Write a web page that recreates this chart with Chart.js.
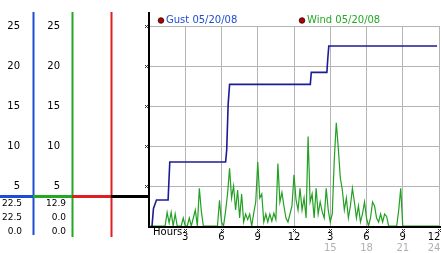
<!DOCTYPE html>
<html>
<head>
<meta charset="utf-8">
<script src="https://cdn.jsdelivr.net/npm/chart.js@4"></script>
<style>
  html, body { margin: 0; padding: 0; background: #fff; }
</style>
</head>
<body>
<canvas id="chart" width="442" height="253"></canvas>
<script>
// gust: step line, hour -> mph
const gustHours  = [0.25, 0.37, 0.62, 1.58, 1.72, 6.34, 6.43, 6.55, 6.67, 13.35, 13.43, 14.72, 14.80, 14.88, 23.84];
const gustValues = [0,    2.2,  3.25, 3.25, 8.0,  8.0,  9.5,  15.2, 17.7, 17.7,  19.2,  19.2,  21.0,  22.5,  22.5];

// wind: one reading every 10 minutes from midnight
const windValues = [
  0, 0, 0, 0, 0, 0, 0, 0, 0, 1.7,
  0.4, 1.7, 0, 1.5, 0, 0, 0, 1.0, 0, 0,
  1.0, 0, 1.0, 2.0, 0, 4.7, 1.8, 0, 0, 0,
  0, 0, 0, 0, 0, 3.2, 0.5, 0, 1.8, 4.0,
  7.2, 3.5, 5.0, 2.0, 4.5, 1.0, 4.0, 0.5, 1.5, 0.8,
  1.5, 0, 1.6, 3.0, 8.0, 3.5, 4.0, 0.5, 1.5, 0.5,
  1.5, 0.6, 1.6, 0.8, 7.8, 3.0, 4.2, 2.5, 1.0, 0.5,
  1.5, 2.5, 6.4, 3.3, 2.0, 4.7, 2.0, 3.5, 1.0, 11.2,
  3.0, 4.0, 1.0, 4.7, 1.5, 3.0, 1.8, 1.0, 4.7, 2.0,
  0.5, 1.5, 8.3, 12.9, 9.7, 6.0, 4.5, 2.0, 3.5, 1.0,
  2.5, 4.7, 3.0, 1.0, 2.5, 0.5, 1.5, 3.0, 1.0, 0,
  1.0, 3.0, 2.5, 1.0, 0.5, 1.5, 0.5, 1.5, 1.2, 0,
  0, 0, 0, 0, 2.0, 4.7, 0, 0, 0, 0,
  0, 0, 0, 0, 0, 0, 0, 0, 0, 0,
  0, 0, 0, 0, 0
];
const windMinutesStep = 10;

const legendNames = ['Gust 05/20/08', 'Wind 05/20/08'];
const yTickValues = [25, 20, 15, 10, 5];
const xTickHours = [3, 6, 9, 12, 15, 18, 21, 24];
const xTickLabels = ['3', '6', '9', '12', '3', '6', '9', '12'];
const xTickLabels24 = ['', '', '', '', '15', '18', '21', '24'];
const gustReadout = ['22.5', '22.5', '0.0'];
const windReadout = ['12.9', '0.0', '0.0'];
const cursorLevel = 3.7;

const gustPoints = gustHours.map((h, i) => ({ x: h, y: gustValues[i] }));
const windPoints = windValues.map((v, i) => ({ x: i * windMinutesStep / 60, y: v }));

const FONT = '10px "DejaVu Sans", Verdana, sans-serif';
const SMALL = '9px "DejaVu Sans", Verdana, sans-serif';
const BLUE = '#1f4cd6';
const GREEN = '#22a822';
const RED = '#dd1f1f';

function mark(ctx, x, y) {
    ctx.fillStyle = '#333';
    ctx.fillRect(x - 1, y - 1, 1, 1);
    ctx.fillRect(x + 1, y - 1, 1, 1);
    ctx.fillRect(x, y, 1, 1);
    ctx.fillRect(x - 1, y + 1, 1, 1);
    ctx.fillRect(x + 1, y + 1, 1, 1);
}

const decor = {
    id: 'decor',
    beforeDatasetsDraw(chart) {
        const { ctx, chartArea: a } = chart;
        ctx.save();
        ctx.fillStyle = '#000';
        ctx.fillRect(a.left - 1, a.top - 14, 2, a.bottom - a.top + 16);
        ctx.fillRect(a.left - 1, a.bottom, a.right - a.left + 3, 2);
        ctx.restore();
    },
    afterDraw(chart) {
        const { ctx, chartArea: a } = chart;
        const ys = chart.scales.y, xs = chart.scales.x;
        ctx.save();

        // left panel columns
        const cols = [33, 72, 111];
        const colColors = [BLUE, GREEN, RED];
        const colBottoms = [a.bottom + 9, a.bottom + 11, a.bottom + 11];
        cols.forEach((cx, i) => {
            ctx.fillStyle = colColors[i];
            ctx.fillRect(cx - 0.5, a.top - 14, 2, colBottoms[i] - (a.top - 14));
        });

        // cursor level bar
        const cy = Math.round(ys.getPixelForValue(cursorLevel));
        const segs = [[0, 33, BLUE], [33, 72, GREEN], [72, 111, RED], [111, a.left, '#000']];
        segs.forEach(([x0, x1, c]) => {
            ctx.fillStyle = c;
            ctx.fillRect(x0, cy - 1, x1 - x0, 3);
        });

        // y tick labels in the two columns
        ctx.font = FONT;
        ctx.textAlign = 'right';
        ctx.textBaseline = 'middle';
        yTickValues.forEach(v => {
            const y = ys.getPixelForValue(v);
            ctx.fillStyle = '#000';
            ctx.fillText(String(v), 20, y);
            ctx.fillText(String(v), 60, y);
            mark(ctx, a.left - 3, Math.round(y));
        });

        // readouts below
        ctx.font = SMALL;
        ctx.fillStyle = '#000';
        gustReadout.forEach((t, i) => ctx.fillText(t, 22, a.bottom - 22 + i * 14));
        windReadout.forEach((t, i) => ctx.fillText(t, 66, a.bottom - 22 + i * 14));

        // legend
        const items = [[a.left + 12, BLUE], [a.left + 153, GREEN]];
        ctx.font = FONT;
        ctx.textAlign = 'left';
        items.forEach(([lx, c], i) => {
            ctx.beginPath();
            ctx.arc(lx, a.top - 5.5, 2.8, 0, Math.PI * 2);
            ctx.fillStyle = '#b00000';
            ctx.fill();
            ctx.strokeStyle = '#300000';
            ctx.lineWidth = 0.8;
            ctx.stroke();
            ctx.fillStyle = c;
            ctx.fillText(legendNames[i], lx + 5, a.top - 5.5);
        });

        // x axis labels
        ctx.fillStyle = '#000';
        ctx.fillText('Hours', a.left + 4, a.bottom + 6);
        ctx.textAlign = 'center';
        xTickHours.forEach((h, i) => {
            const x = xs.getPixelForValue(h);
            mark(ctx, Math.round(x), a.bottom + 4);
            const lx = Math.min(x, 442 - 8);
            ctx.fillStyle = '#000';
            ctx.fillText(xTickLabels[i], lx, a.bottom + 11);
            ctx.fillStyle = '#b0b0b0';
            ctx.fillText(xTickLabels24[i], lx, a.bottom + 22);
        });
        ctx.restore();
    }
};

new Chart(document.getElementById('chart'), {
    type: 'line',
    data: {
        datasets: [
            { label: legendNames[0], data: gustPoints, borderColor: '#1c1c94', borderWidth: 1.6, pointRadius: 0, fill: false },
            { label: legendNames[1], data: windPoints, borderColor: '#22a022', borderWidth: 1.2, pointRadius: 0, fill: false }
        ]
    },
    options: {
        responsive: false,
        animation: false,
        devicePixelRatio: 1,
        layout: { padding: { left: 149, right: 3, top: 26, bottom: 27 } },
        plugins: { legend: { display: false }, tooltip: { enabled: false } },
        scales: {
            x: {
                type: 'linear', min: 0, max: 24,
                ticks: { display: false, stepSize: 3 },
                grid: { color: '#b4b4b4', drawTicks: false },
                border: { display: false }
            },
            y: {
                min: 0, max: 25,
                ticks: { display: false, stepSize: 5 },
                grid: { color: '#b4b4b4', drawTicks: false },
                border: { display: false }
            }
        }
    },
    plugins: [decor]
});
</script>
</body>
</html>
